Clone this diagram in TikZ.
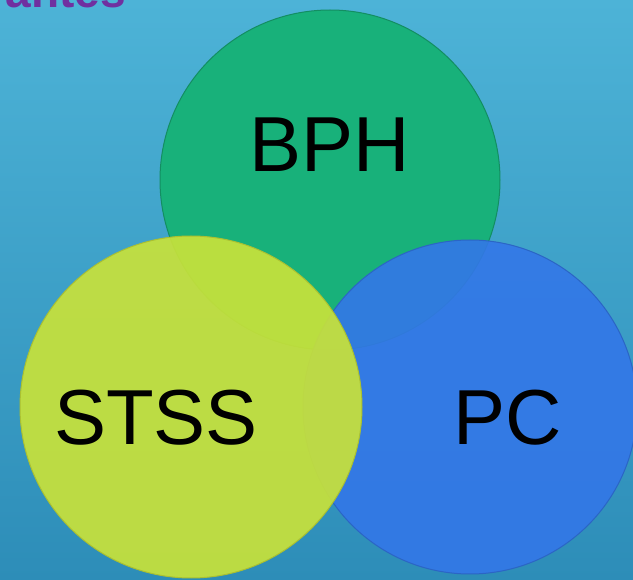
\documentclass[tikz,border=0pt]{standalone}
\usepackage{fontspec}
\setmainfont{Liberation Sans}
\usetikzlibrary{positioning}
\definecolor{bgtop}{HTML}{4DB3D7}
\definecolor{bgbot}{HTML}{2D8DB8}
\definecolor{bphgreen}{HTML}{18B17A}
\definecolor{pcblue}{HTML}{3377E8}
\definecolor{stssyellow}{HTML}{C8E23A}
\definecolor{titlepurple}{HTML}{7030A0}
\tikzset{
  venn/.style={circle, minimum size=340pt, inner sep=0pt},
  label/.style={font=\fontsize{78}{92}\selectfont, text=black},
}

\begin{document}
\begin{tikzpicture}[x=1pt,y=-1pt]
\useasboundingbox (0,0) rectangle (633,580);
\clip (0,0) rectangle (633,580);
\shade[top color=bgtop, bottom color=bgbot] (0,0) rectangle (633,580);
% title, mostly cut off
\node[anchor=base east, font=\bfseries\fontsize{46}{50}\selectfont,
  text=titlepurple, inner sep=0pt] (title) at (126,8) {antes};
% the three sets
\node[venn, fill=bphgreen, draw=bphgreen!80!black, line width=1pt] (bph) at (330,180) {};
\node[venn, fill=pcblue, fill opacity=0.9, draw=pcblue!85!black, line width=1pt,
  minimum size=334pt] (pc) at (470,407) {};
\node[venn, fill=stssyellow, fill opacity=0.92, draw=stssyellow!85!black, line width=1pt,
  minimum size=342pt] (stss) at (191,407) {};
% labels
\node[label] (bphtext) at (330,145) {BPH};
\node[label] (stsstext) at (156,418) {STSS};
\node[label] (pctext) at (508,418) {PC};
\end{tikzpicture}
\end{document}
